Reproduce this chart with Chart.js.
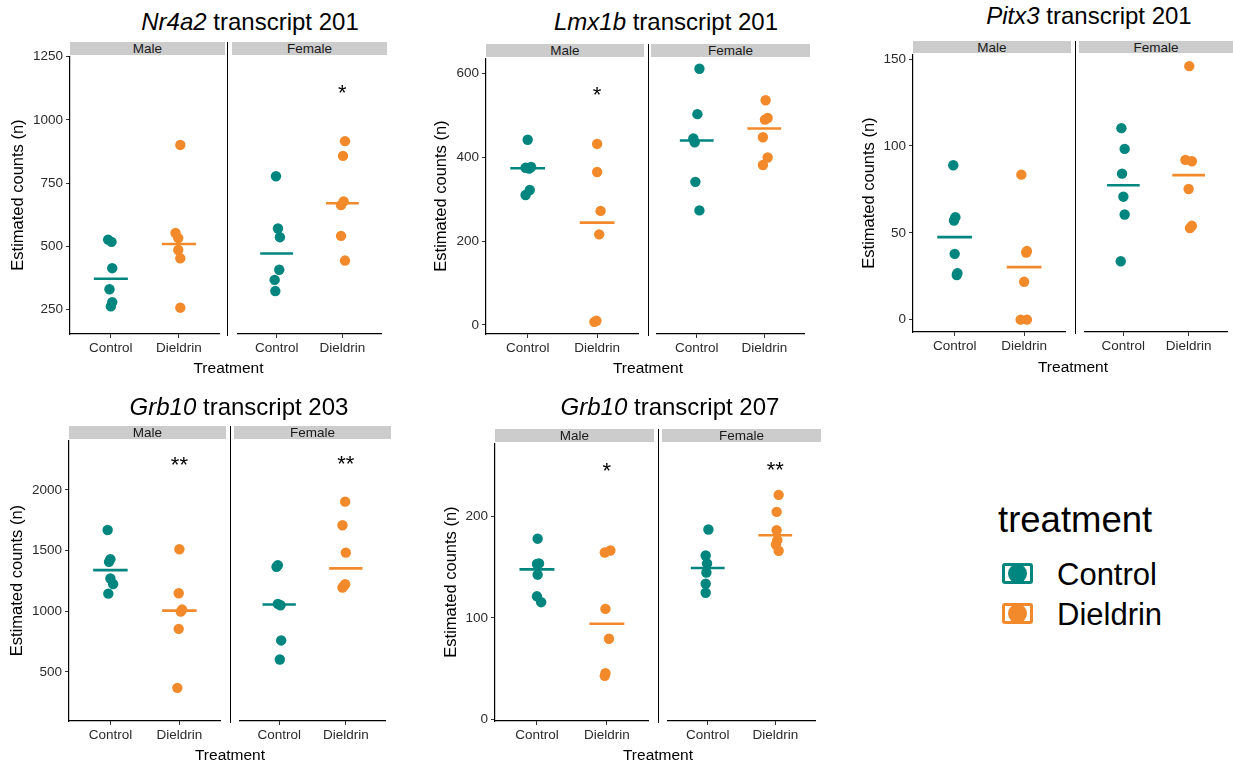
<!DOCTYPE html>
<html>
<head>
<meta charset="utf-8">
<script src="https://cdn.jsdelivr.net/npm/chart.js@4.4.1/dist/chart.umd.min.js"></script>
<style>
  body { margin: 0; background: #fff; width: 1233px; height: 766px; position: relative; overflow: hidden;
         font-family: "Liberation Sans", Arial, sans-serif; color: #000; }
  canvas { position: absolute; }
  .title { position: absolute; font-size: 24px; line-height: 1; white-space: nowrap; transform: translate(-50%, -50%); }
  .strip { position: absolute; background: #ccc; font-size: 13.5px; line-height: 13px; text-align: center; color: #1a1a1a; }
  .sep { position: absolute; width: 1.4px; background: #000; }
  .xlab { position: absolute; font-size: 15.5px; line-height: 1; transform: translate(-50%, -50%); white-space: nowrap; }
  .leg { position: absolute; white-space: nowrap; line-height: 1; transform: translateY(-50%); }
  .key { position: absolute; width: 31px; height: 21px; border-radius: 3px; overflow: hidden; }
  .key .in { position: absolute; left: 3px; top: 3px; width: 25px; height: 15px; background: #fff; }
  .key .dot { position: absolute; left: 6px; top: 1px; width: 19px; height: 19px; border-radius: 50%; }
</style>
</head>
<body>
<script>
// ---- data ----
const groups = ['Control', 'Dieldrin'];
const sexes = ['Male', 'Female'];
const colors = ['#00857f', '#f28a2b'];

// Nr4a2 transcript 201
const nr4a2MaleCtl = [527, 518, 414, 331, 280, 263];
const nr4a2MaleDie = [901, 553, 533, 486, 453, 258];
const nr4a2FemCtl = [775, 569, 535, 407, 367, 323];
const nr4a2FemDie = [913, 855, 676, 661, 540, 443];
const nr4a2Jitter = [[-0.04, 0.01, 0.02, -0.02, 0.02, 0], [0.02, -0.05, -0.01, -0.01, 0.02, 0.02],
                     [-0.01, 0.02, 0.05, 0.04, -0.03, -0.02], [0.04, 0.01, 0.02, -0.02, -0.02, 0.04]];
const nr4a2Ticks = [250, 500, 750, 1000, 1250];
const nr4a2Stars = ['', '*'];
const nr4a2StarY = 1124;

// Lmx1b transcript 201
const lmx1bMaleCtl = [442, 377, 375, 373, 322, 310];
const lmx1bMaleDie = [432, 365, 272, 216, 9.5, 7];
const lmx1bFemCtl = [609, 501, 443, 434, 340, 272];
const lmx1bFemDie = [534, 492, 488, 446, 398, 380];
const lmx1bJitter = [[0, 0.05, -0.03, 0.02, 0.03, -0.03], [0, 0, 0.05, 0.03, -0.01, -0.04],
                     [0.04, 0.01, -0.05, -0.03, -0.02, 0.04], [0.02, 0.05, 0.01, -0.02, 0.05, -0.02]];
const lmx1bTicks = [0, 200, 400, 600];
const lmx1bStars = ['*', ''];
const lmx1bStarY = 563;

// Pitx3 transcript 201
const pitx3MaleCtl = [88.9, 59, 57.1, 37.9, 26.8, 25.7];
const pitx3MaleDie = [83.5, 39.5, 38.7, 21.8, 0, 0];
const pitx3FemCtl = [109.8, 97.9, 83.7, 70.5, 60.3, 33.5];
const pitx3FemDie = [145.4, 91.6, 90.8, 74.9, 53.8, 52.5];
const pitx3Jitter = [[-0.02, 0.01, -0.01, 0, 0.04, 0.03], [-0.04, 0.04, 0.03, 0, -0.05, 0.04],
                     [-0.03, 0.02, -0.02, 0, 0.02, -0.04], [0.01, -0.05, 0.05, 0, 0.05, 0.02]];
const pitx3Ticks = [0, 50, 100, 150];
const pitx3Stars = ['', ''];
const pitx3StarY = 0;

// Grb10 transcript 203
const grb203MaleCtl = [1669, 1429, 1407, 1270, 1224, 1145];
const grb203MaleDie = [1511, 1148, 1014, 997, 855, 369];
const grb203FemCtl = [1374, 1361, 1057, 1046, 757, 601];
const grb203FemDie = [1896, 1702, 1478, 1218, 1205, 1191];
const grb203Jitter = [[-0.04, 0, -0.02, 0, 0.04, -0.03], [0, -0.01, 0.04, 0.02, -0.01, -0.03],
                      [-0.02, -0.04, -0.02, 0.02, 0.03, 0.01], [-0.01, -0.05, 0, -0.01, -0.03, -0.05]];
const grb203Ticks = [500, 1000, 1500, 2000];
const grb203Stars = ['**', '**'];
const grb203StarY = 2254;

// Grb10 transcript 207
const grb207MaleCtl = [178, 153.6, 153, 142.5, 121.2, 115.4];
const grb207MaleDie = [166.3, 164.4, 108.8, 79.4, 45.4, 42.8];
const grb207FemCtl = [186.3, 160.8, 153, 144.1, 133, 124.2];
const grb207FemDie = [220.3, 203.6, 185.6, 175.8, 171.6, 165.4];
const grb207Jitter = [[0.01, 0.03, 0, 0.01, 0, 0.06], [0.05, -0.03, -0.02, 0.03, -0.02, -0.03],
                      [0.01, -0.03, -0.01, -0.02, -0.03, -0.03], [0.05, 0.02, 0.02, 0.03, 0.01, 0.05]];
const grb207Ticks = [0, 100, 200];
const grb207Stars = ['*', '**'];
const grb207StarY = 250;

// ---- layout ----
const FONT = '"Liberation Sans", Arial, sans-serif';
const Y_AXIS_W = 62;
const X_AXIS_H = 30;
const TOP_PAD = 10;

const panels = [
  { gene: 'Nr4a2', sub: 'transcript 201', vals: [nr4a2MaleCtl, nr4a2MaleDie, nr4a2FemCtl, nr4a2FemDie],
    jit: nr4a2Jitter, ticks: nr4a2Ticks, stars: nr4a2Stars, starY: nr4a2StarY, yMin: 154, yMax: 1252,
    axisX: 70, top: 55, bottom: 334, maleRight: 225, femLeft: 232, femRight: 387, sepX: 226.5, stripTop: 42,
    yTitleX: 19, titleX: 250, titleY: 21.5, treatY: 368 },
  { gene: 'Lmx1b', sub: 'transcript 201', vals: [lmx1bMaleCtl, lmx1bMaleDie, lmx1bFemCtl, lmx1bFemDie],
    jit: lmx1bJitter, ticks: lmx1bTicks, stars: lmx1bStars, starY: lmx1bStarY, yMin: -22, yMax: 637,
    axisX: 486, top: 57, bottom: 334, maleRight: 644, femLeft: 651, femRight: 810, sepX: 648, stripTop: 44,
    yTitleX: 442, titleX: 666, titleY: 21.5, treatY: 368 },
  { gene: 'Pitx3', sub: 'transcript 201', vals: [pitx3MaleCtl, pitx3MaleDie, pitx3FemCtl, pitx3FemDie],
    jit: pitx3Jitter, ticks: pitx3Ticks, stars: pitx3Stars, starY: pitx3StarY, yMin: -7.1, yMax: 152.9,
    axisX: 913, top: 53, bottom: 332, maleRight: 1071, femLeft: 1079, femRight: 1233, sepX: 1074.5, stripTop: 41,
    yTitleX: 870, titleX: 1089, titleY: 15.5, treatY: 367 },
  { gene: 'Grb10', sub: 'transcript 203', vals: [grb203MaleCtl, grb203MaleDie, grb203FemCtl, grb203FemDie],
    jit: grb203Jitter, ticks: grb203Ticks, stars: grb203Stars, starY: grb203StarY, yMin: 96, yMax: 2410,
    axisX: 69, top: 439, bottom: 721, maleRight: 226, femLeft: 234, femRight: 391, sepX: 229.5, stripTop: 426,
    yTitleX: 18, titleX: 239, titleY: 406.5, treatY: 755 },
  { gene: 'Grb10', sub: 'transcript 207', vals: [grb207MaleCtl, grb207MaleDie, grb207FemCtl, grb207FemDie],
    jit: grb207Jitter, ticks: grb207Ticks, stars: grb207Stars, starY: grb207StarY, yMin: -1.7, yMax: 272.2,
    axisX: 495, top: 442, bottom: 721, maleRight: 654, femLeft: 662, femRight: 821, sepX: 657.5, stripTop: 429,
    yTitleX: 452, titleX: 670, titleY: 406.5, treatY: 755 }
];

function median(arr) {
  const s = [...arr].sort((a, b) => a - b);
  const m = Math.floor(s.length / 2);
  return s.length % 2 ? s[m] : (s[m - 1] + s[m]) / 2;
}

function addDiv(cls, css, text) {
  const d = document.createElement('div');
  d.className = cls;
  Object.assign(d.style, css);
  if (text !== undefined) d.textContent = text;
  document.body.appendChild(d);
  return d;
}

// draws the significance asterisks above the Dieldrin column
const starPlugin = {
  id: 'stars',
  afterDatasetsDraw(chart, args, opts) {
    if (!opts.text) return;
    const { ctx, scales: { x, y } } = chart;
    ctx.save();
    ctx.font = '22px ' + FONT;
    ctx.fillStyle = '#000';
    ctx.textAlign = 'center';
    ctx.textBaseline = 'alphabetic';
    ctx.fillText(opts.text, x.getPixelForValue(2), y.getPixelForValue(opts.y) + 12.5);
    ctx.restore();
  }
};

function facetChart(p, facet) {
  const showY = facet === 0;
  const left = showY ? p.axisX - Y_AXIS_W : p.femLeft;
  const right = showY ? p.maleRight : p.femRight;
  const canvas = document.createElement('canvas');
  canvas.width = Math.round(right - left);
  canvas.height = Math.round(p.bottom - p.top + X_AXIS_H + TOP_PAD);
  canvas.style.left = left + 'px';
  canvas.style.top = (p.top - TOP_PAD) + 'px';
  document.body.appendChild(canvas);

  const datasets = [];
  groups.forEach((g, gi) => {
    const vals = p.vals[facet * 2 + gi];
    const jit = p.jit[facet * 2 + gi];
    const med = median(vals);
    datasets.push({
      type: 'line',
      data: [{ x: gi + 1 - 0.25, y: med }, { x: gi + 1 + 0.25, y: med }],
      borderColor: colors[gi], borderWidth: 2.6, pointRadius: 0, fill: false, order: 2
    });
    datasets.push({
      type: 'scatter',
      data: vals.map((v, i) => ({ x: gi + 1 + jit[i], y: v })),
      backgroundColor: colors[gi], borderWidth: 0, pointRadius: 5.2, order: 1
    });
  });

  const yTitlePad = Math.max(0, p.yTitleX - left - 10);

  new Chart(canvas, {
    data: { datasets },
    plugins: [starPlugin],
    options: {
      responsive: false,
      animation: false,
      events: [],
      layout: { padding: { top: TOP_PAD, left: 0, right: 0, bottom: 0 } },
      plugins: {
        legend: { display: false },
        tooltip: { enabled: false },
        stars: { text: p.stars[facet], y: p.starY }
      },
      scales: {
        x: {
          type: 'linear', min: 0.4, max: 2.6,
          afterBuildTicks: s => { s.ticks = groups.map((g, i) => ({ value: i + 1 })); },
          afterFit: s => { s.height = X_AXIS_H; },
          ticks: { callback: v => groups[v - 1], color: '#2b2b2b', font: { family: FONT, size: 13.5 },
                   padding: 2, maxRotation: 0, autoSkip: false },
          grid: { drawOnChartArea: false, drawTicks: true, tickLength: 4, color: '#333', lineWidth: 1 },
          border: { display: true, color: '#000', width: 1.2 }
        },
        y: {
          type: 'linear', min: p.yMin, max: p.yMax, display: showY,
          afterBuildTicks: s => { s.ticks = p.ticks.map(v => ({ value: v })); },
          afterFit: s => { if (showY) s.width = Y_AXIS_W; },
          ticks: { callback: v => String(v), color: '#2b2b2b', font: { family: FONT, size: 13.5 }, padding: 3 },
          grid: { drawOnChartArea: false, drawTicks: true, tickLength: 4, color: '#333', lineWidth: 1 },
          border: { display: true, color: '#000', width: 1.2 },
          title: { display: true, text: 'Estimated counts (n)', color: '#000',
                   font: { family: FONT, size: 16.5 }, padding: { top: yTitlePad, bottom: 0 } }
        }
      }
    }
  });
}

panels.forEach(p => {
  // panel title with italic gene name
  const t = addDiv('title', { left: p.titleX + 'px', top: p.titleY + 'px' });
  const gi = document.createElement('i');
  gi.textContent = p.gene;
  t.appendChild(gi);
  t.appendChild(document.createTextNode(' ' + p.sub));

  // facet strips
  addDiv('strip', { left: p.axisX + 'px', top: p.stripTop + 'px', width: (p.maleRight - p.axisX) + 'px',
                    height: (p.top - p.stripTop) + 'px' }, sexes[0]);
  addDiv('strip', { left: p.femLeft + 'px', top: p.stripTop + 'px', width: (p.femRight - p.femLeft) + 'px',
                    height: (p.top - p.stripTop) + 'px' }, sexes[1]);
  // separator between facets
  addDiv('sep', { left: p.sepX + 'px', top: p.stripTop + 'px', height: (p.bottom - p.stripTop + 2) + 'px' });

  facetChart(p, 0);
  facetChart(p, 1);

  addDiv('xlab', { left: ((p.axisX + p.femRight) / 2) + 'px', top: p.treatY + 'px' }, 'Treatment');
});

// legend
addDiv('leg', { left: '998px', top: '520px', fontSize: '36.5px' }, 'treatment');
groups.forEach((g, i) => {
  const k = addDiv('key', { left: '1002px', top: (563 + i * 40) + 'px', background: colors[i] });
  const inner = document.createElement('div'); inner.className = 'in'; k.appendChild(inner);
  const dot = document.createElement('div'); dot.className = 'dot'; dot.style.background = colors[i]; k.appendChild(dot);
  addDiv('leg', { left: '1057px', top: (574 + i * 40) + 'px', fontSize: '31px' }, g);
});
</script>
</body>
</html>
